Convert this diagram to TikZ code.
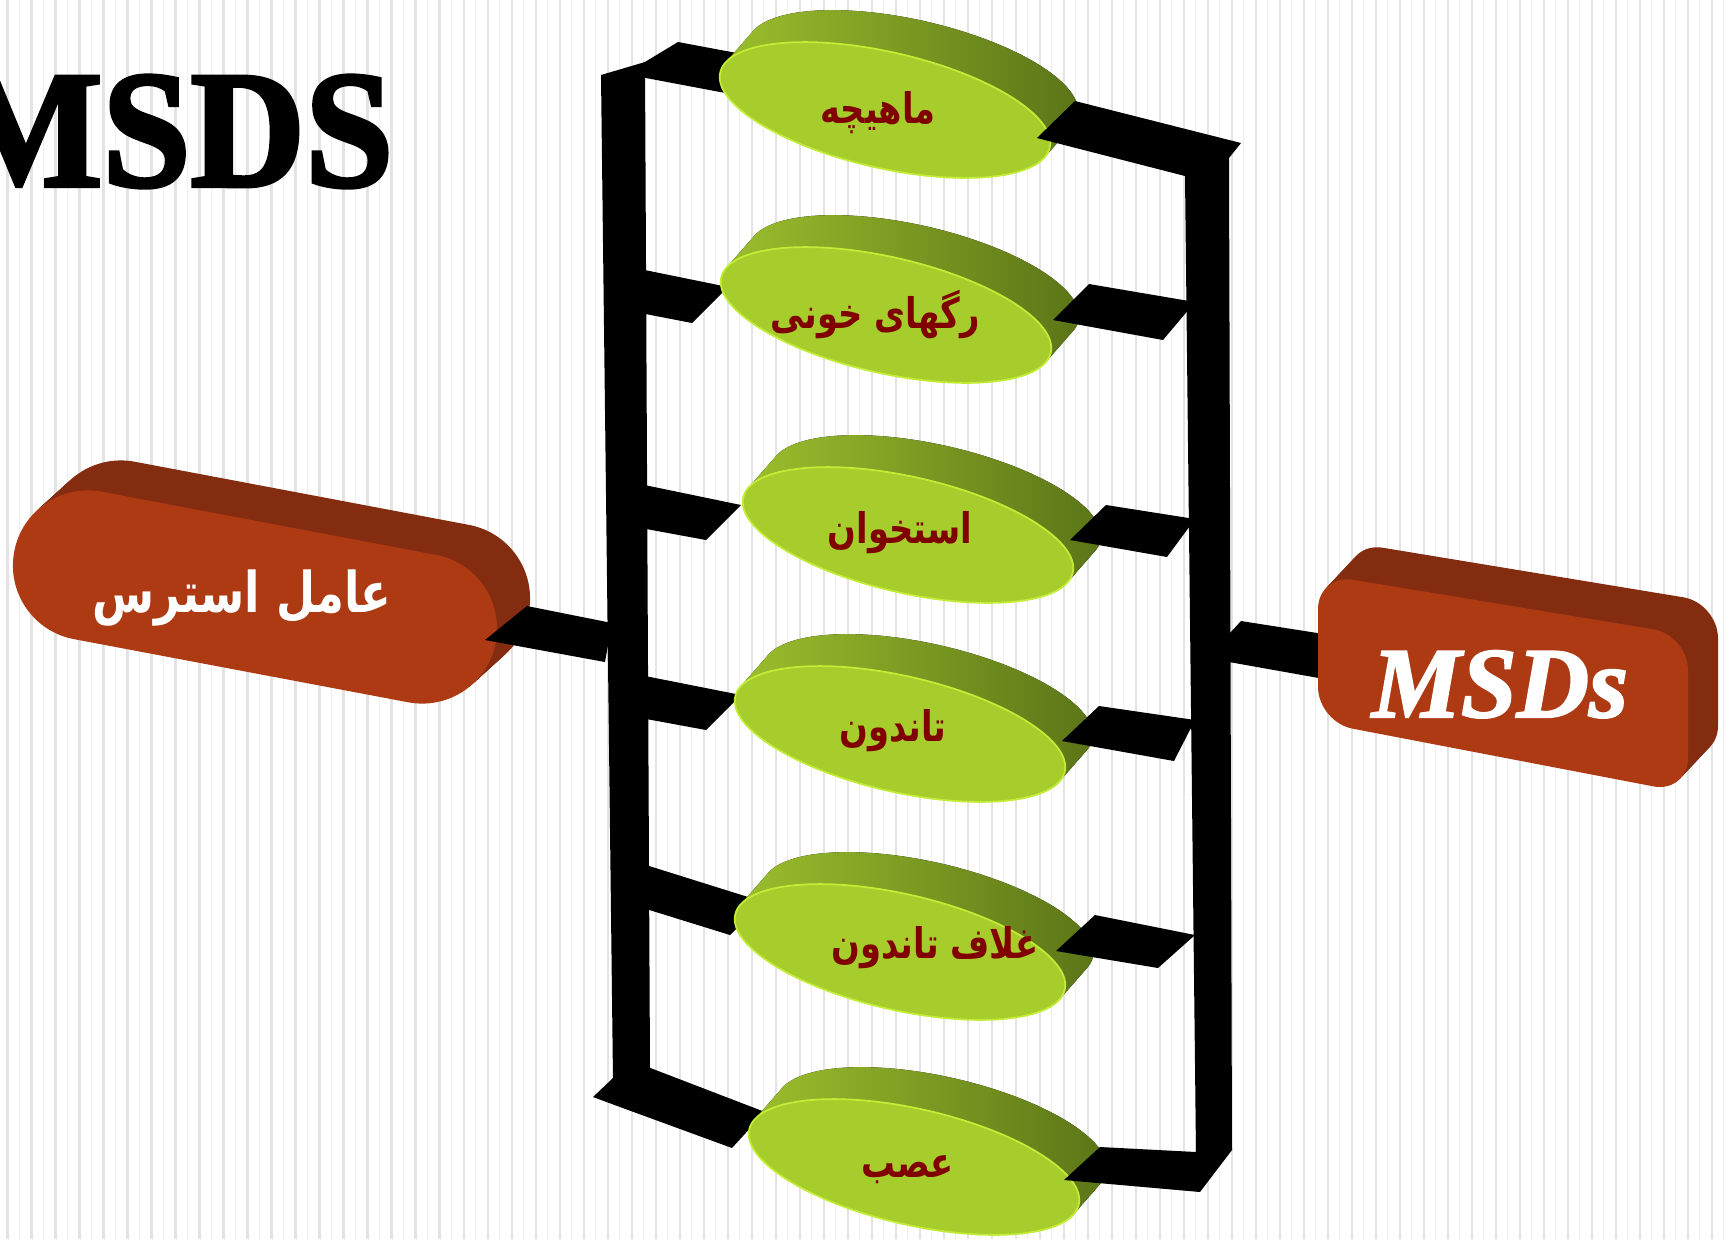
\documentclass[tikz,border=0pt]{standalone}
\usepackage{fontspec}
\usetikzlibrary{calc}
\TeXXeTstate=1
\newfontfamily\arabicfont[Script=Arabic]{DejaVu Sans}
\newfontfamily\titlefont[FakeBold=2.5]{Liberation Serif Bold}
\newfontfamily\titleitfont[FakeBold=2]{Liberation Serif Bold Italic}
\definecolor{diskfront}{HTML}{A6CD2B}
\definecolor{diskrim}{HTML}{C2EC36}
\definecolor{disksideA}{HTML}{9BBE2D}
\definecolor{disksideB}{HTML}{5B7517}
\definecolor{boxfront}{HTML}{AD3A13}
\definecolor{boxside}{HTML}{842C10}
\definecolor{labelred}{HTML}{800000}
\definecolor{stripeA}{HTML}{E3E3E3}
\definecolor{stripeB}{HTML}{EEEEEE}
\tikzset{
  disklabel/.style={text=labelred, xscale=0.8, font=\arabicfont\bfseries\fontsize{12}{14}\selectfont, inner sep=0pt},
  boxlabel/.style={text=white, inner sep=0pt},
  bar/.style={fill=black}
}
\newcommand{\greendisk}[2]{%
  \begin{scope}[shift={(#1,#2)}]
    \fill[left color=disksideA, right color=disksideB] (-159.7,-47.2) -- (159.7,47.2)
      -- plot[domain=10.48:-169.52, samples=60] ({28+164.78*cos(\x)-12.90*sin(\x)}, {-32+37.59*cos(\x)+56.55*sin(\x)}) -- cycle;
    \fill[diskfront, draw=diskrim, line width=0.5pt, rotate=-12.85] (0,0) ellipse [x radius=169, y radius=58];
  \end{scope}}

\begin{document}
\begin{tikzpicture}[x=0.1mm, y=-0.1mm]
      \useasboundingbox (0,0) rectangle (1729,1239);
      \fill[white] (0,0) rectangle (1729,1239);
      \foreach \sx in {0,...,71} {
        \draw[stripeA, line width=0.57pt] ({7.5+24*\sx},0) -- ({7.5+24*\sx},1239);
        \draw[stripeB, line width=0.3pt] ({19.5+24*\sx},0) -- ({19.5+24*\sx},1239);
      }

      \node[anchor=base east, inner sep=0pt, xscale=0.95, font=\titlefont\fontsize{47.5}{50}\selectfont] (title) at (394,186) {MSDS};

      \fill[bar] (601,75) -- (645,62) -- (650,1068) -- (613,1080) -- cycle;
      \fill[bar] (630,71) -- (678,42) -- (742,54) -- (736,95) -- (630,75) -- cycle;
      \fill[bar] (630,267) -- (728,287) -- (692,323) -- (630,311) -- cycle;
      \fill[bar] (630,482) -- (741,505) -- (706,540) -- (630,526) -- cycle;
      \fill[bar] (630,673) -- (741,695) -- (706,730) -- (630,716) -- cycle;
      \fill[bar] (630,860) -- (764,902) -- (730,935) -- (630,904) -- cycle;
      \fill[bar] (640,1064) -- (765,1112) -- (732,1148) -- (620,1107) -- (593,1097) -- (613,1078) -- cycle;

      \greendisk{885}{110}
      \greendisk{886}{315}
      \greendisk{908}{535}
      \greendisk{900}{734}
      \greendisk{900}{952}
      \greendisk{914}{1167}

      \node[disklabel] (muscle) at (878,113) {\beginR ماهیچه\endR};
      \node[disklabel] (vessel) at (875,314) {\beginR رگهای خونی\endR};
      \node[disklabel] (bone) at (900,533) {\beginR استخوان\endR};
      \node[disklabel] (tendon) at (893,731) {\beginR تاندون\endR};
      \node[disklabel] (sheath) at (935,948) {\beginR غلاف تاندون\endR};
      \node[disklabel] (nerve) at (908,1170) {\beginR عصب\endR};

      \fill[bar] (1037,138) -- (1075,101) -- (1241,143) -- (1229,158) -- (1232,1150) -- (1200,1192) -- (1064,1180) -- (1100,1147) -- (1196,1152) -- (1185,176) -- cycle;
      \fill[bar] (1053,320) -- (1089,284) -- (1195,302) -- (1163,340) -- cycle;
      \fill[bar] (1070,540) -- (1106,505) -- (1195,519) -- (1167,557) -- cycle;
      \fill[bar] (1062,741) -- (1099,706) -- (1195,720) -- (1174,761) -- cycle;
      \fill[bar] (1056,951) -- (1095,915) -- (1195,935) -- (1158,968) -- cycle;

      \begin{scope}[shift={(255,597)}]
        \foreach \k in {12,...,1}
          \fill[boxside, shift={(\k*33/12,-\k*30/12)}, rotate=-10.7, rounded corners=21.3pt] (-245,-75) rectangle (245,75);
        \fill[boxfront, rotate=-10.7, rounded corners=21.3pt] (-245,-75) rectangle (245,75);
      \end{scope}
      \node[boxlabel, xscale=0.8, font=\arabicfont\bfseries\fontsize{16}{18}\selectfont] (stress) at (242,598) {\beginR عامل استرس\endR};
      \fill[bar] (485,640) -- (527,606) -- (612,623) -- (605,662) -- cycle;

      \fill[bar] (1229,634) -- (1241,621) -- (1330,635) -- (1330,680) -- (1229,662) -- cycle;
      \foreach \k in {12,...,1}
        \fill[boxside, shift={(\k*30/12,-\k*32/12)}, rounded corners=10pt] (1318,574) -- (1688,635) -- (1688,793) -- (1318,722) -- cycle;
      \fill[boxfront, rounded corners=10pt] (1318,574) -- (1688,635) -- (1688,793) -- (1318,722) -- cycle;
      \node[boxlabel, anchor=base, font=\titleitfont\fontsize{28.5}{30}\selectfont] (msds) at (1500,717) {MSDs};
\end{tikzpicture}
\end{document}
